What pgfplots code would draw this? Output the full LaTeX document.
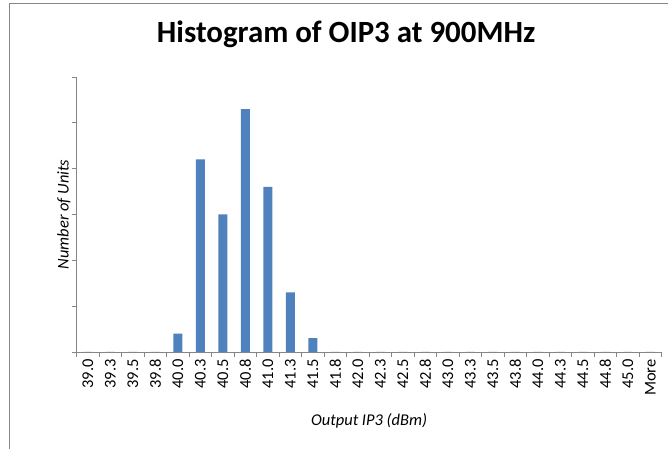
\documentclass[border=0pt]{standalone}
\usepackage{fontspec}
\setmainfont{Carlito}
\usepackage{pgfplots}
\pgfplotsset{compat=1.18}
\definecolor{barblue}{HTML}{4F81BD}
\definecolor{axgray}{HTML}{868686}
\begin{document}
\begin{tikzpicture}[x=1bp,y=1bp]
\useasboundingbox (0,0) rectangle (668,449);
\draw[axgray, line width=1.4bp] (9.5,0) -- (9.5,445.5) -- (668,445.5);
\begin{axis}[
  at={(76.5bp,97bp)}, anchor=south west,
  width=585.2bp, height=275bp, scale only axis,
  xmin=-0.5, xmax=25.5, ymin=0, ymax=60,
  axis x line*=bottom, axis y line*=left,
  axis line style={axgray, line width=0.8bp},
  tick align=outside, major tick length=5bp,
  every tick/.style={axgray, line width=0.8bp},
  ytick={0,10,...,60}, yticklabels={},
  xtick={-0.5,0.5,...,25.5}, xticklabels={},
  extra x ticks={0,1,...,25},
  extra x tick labels={39.0,39.3,39.5,39.8,40.0,40.3,40.5,40.8,41.0,41.3,41.5,41.8,42.0,42.3,42.5,42.8,43.0,43.3,43.5,43.8,44.0,44.3,44.5,44.8,45.0,More},
  extra x tick style={major tick length=0pt},
  /pgf/number format/assume math mode=true,
  xticklabel style={rotate=90, anchor=east, xshift=-4bp, font=\fontsize{16.5}{16.5}\selectfont, text=black},
  every axis x label/.style={at={(axis description cs:0.5,0)}, anchor=center, yshift=-69bp, font=\fontsize{16.5}{16.5}\selectfont\itshape},
  every axis y label/.style={at={(axis description cs:0,0.5)}, xshift=-12.5bp, rotate=90, anchor=center, font=\fontsize{16.5}{16.5}\selectfont\itshape},
  xlabel={Output IP3 (dBm)},
  ylabel={Number of Units},
  title={Histogram of OIP3 at 900MHz},
  title style={at={(axis description cs:0.5,1)}, anchor=center, xshift=-23bp, yshift=37bp, font=\fontsize{31}{31}\selectfont\bfseries},
  clip=false,
]
\addplot[ybar, bar width=0.4, fill=barblue, draw=none] coordinates {
  (0,0) (1,0) (2,0) (3,0) (4,4) (5,42) (6,30) (7,53) (8,36) (9,13) (10,3)
  (11,0) (12,0) (13,0) (14,0) (15,0) (16,0) (17,0) (18,0) (19,0) (20,0)
  (21,0) (22,0) (23,0) (24,0) (25,0)
};
\end{axis}
\end{tikzpicture}
\end{document}
